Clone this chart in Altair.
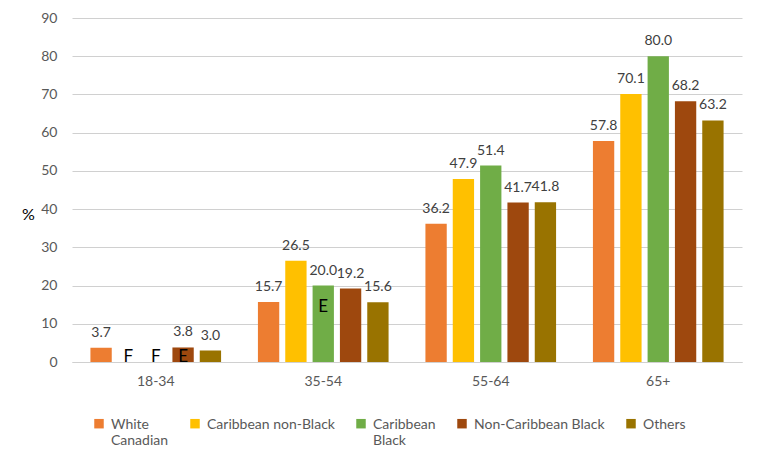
import altair as alt
import pandas as pd

groups = ["18-34", "35-54", "55-64", "65+"]
series = ["White Canadian", "Caribbean non-Black", "Caribbean Black",
          "Non-Caribbean Black", "Others"]
colors = ["#ED7D31", "#FFC000", "#70AD47", "#9E480E", "#997300"]

white_canadian = [3.7, 15.7, 36.2, 57.8]
caribbean_non_black = [None, 26.5, 47.9, 70.1]
caribbean_black = [None, 20.0, 51.4, 80.0]
non_caribbean_black = [3.8, 19.2, 41.7, 68.2]
others = [3.0, 15.6, 41.8, 63.2]

# quality flags (E = use with caution, F = too unreliable)
flag_group = ["18-34", "18-34", "18-34", "35-54"]
flag_series = ["Caribbean non-Black", "Caribbean Black", "Non-Caribbean Black", "Caribbean Black"]
flag_text = ["F", "F", "E", "E"]
flag_value = [1.3, 1.3, 1.3, 14.4]

y_ticks = [0, 10, 20, 30, 40, 50, 60, 70, 80, 90]

rows = []
for s, vals in zip(series, [white_canadian, caribbean_non_black, caribbean_black,
                            non_caribbean_black, others]):
    for g, v in zip(groups, vals):
        rows.append({"group": g, "series": s, "value": v})
df = pd.DataFrame(rows)
df_val = df.dropna()

flags = pd.DataFrame({"group": flag_group, "series": flag_series,
                      "text": flag_text, "value": flag_value})

FONT = "Lato"

x_enc = alt.X("group:N", sort=groups,
              scale=alt.Scale(paddingInner=0.22, paddingOuter=0.11),
              axis=alt.Axis(title=None, labelAngle=0, ticks=False, tickSize=0,
                            labelPadding=12, labelFontSize=14, labelColor="#595959",
                            labelFont=FONT, domainColor="#d0d0d0", grid=False))
xoff = alt.XOffset("series:N", sort=series,
                   scale=alt.Scale(paddingInner=0.22, paddingOuter=0.0))
y_enc = alt.Y("value:Q", scale=alt.Scale(domain=[0, 90], nice=False),
              axis=alt.Axis(values=y_ticks, tickCount=10, title="%", titleAngle=0,
                            titleX=-44, titleY=196, titleAlign="center",
                            titleBaseline="middle", titleFontSize=16,
                            titleFontWeight="normal", titleColor="#000000",
                            titleFont=FONT, labelFontSize=14, labelColor="#595959",
                            labelFont=FONT, labelPadding=15, ticks=False,
                            domain=False, gridColor="#d0d0d0", gridWidth=1,
                            labelOverlap=False))

bars = alt.Chart(df_val).mark_bar().encode(
    x=x_enc,
    xOffset=xoff,
    y=y_enc,
    color=alt.Color("series:N", sort=series,
                    scale=alt.Scale(domain=series, range=colors),
                    legend=alt.Legend(title=None, orient="none", direction="horizontal",
                                      columns=5, legendX=20, legendY=393,
                                      symbolType="M-1,0.2H1V2.2H-1Z",
                                      symbolSize=90, symbolStrokeWidth=0,
                                      labelFontSize=14, labelColor="#595959",
                                      labelFont=FONT, labelBaseline="top",
                                      labelOffset=5, columnPadding=19,
                                      padding=0, labelLimit=300,
                                      labelExpr="datum.label == 'White Canadian' ? ['White', 'Canadian'] : datum.label == 'Caribbean Black' ? ['Caribbean', 'Black'] : [datum.label, '']")),
)

labels = alt.Chart(df_val).mark_text(
    dy=-11, baseline="alphabetic", fontSize=14, color="#404040", font=FONT
).encode(
    x=x_enc,
    xOffset=xoff,
    y=y_enc,
    text=alt.Text("value:Q", format=".1f"),
)

flag_marks = alt.Chart(flags).mark_text(
    baseline="middle", fontSize=17, color="#000000", font=FONT
).encode(
    x=x_enc,
    xOffset=xoff,
    y=y_enc,
    text="text:N",
)

chart = alt.layer(bars, labels, flag_marks).properties(
    width=670, height=344,
    autosize=alt.AutoSizeParams(type="none"),
    padding={"left": 64, "top": 10, "right": 10, "bottom": 90},
).configure(background="white").configure_view(stroke=None)

chart.save("out.html", embed_options={"renderer": "svg", "actions": False})
